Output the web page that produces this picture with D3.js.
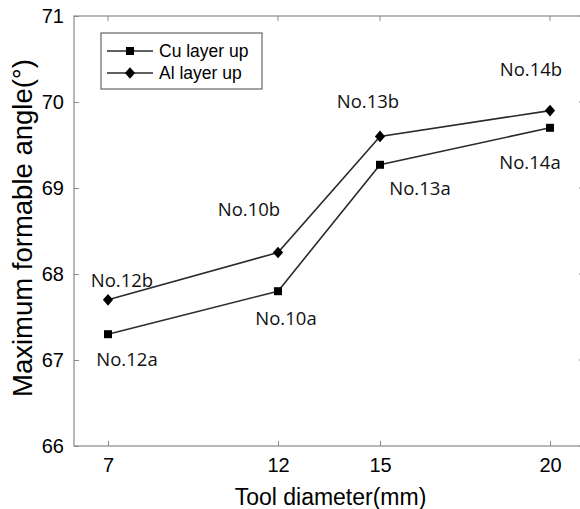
<!DOCTYPE html>
<html>
<head>
<meta charset="utf-8">
<script src="https://cdn.jsdelivr.net/npm/d3@7"></script>
<style>
  body { margin: 0; background: #fff; }
  svg { display: block; }
  .tick text { font-family: Arial, "Liberation Sans", sans-serif; font-size: 20px; fill: #000; }
  .ann { font-family: "Open Sans", "Noto Sans", sans-serif; font-size: 18.5px; fill: #111; }
</style>
</head>
<body>
<div id="chart"></div>
<script>
var diameters = [7, 12, 15, 20];
var cuUp = [67.3, 67.8, 69.27, 69.7];
var alUp = [67.7, 68.25, 69.6, 69.9];
var cuLabels = ['No.12a', 'No.10a', 'No.13a', 'No.14a'];
var alLabels = ['No.12b', 'No.10b', 'No.13b', 'No.14b'];
var yTicks = [66, 67, 68, 69, 70, 71];

var W = 580, H = 509;
var mLeft = 74, mRight = 584, mTop = 16, mBottom = 446;

var x = d3.scaleLinear().domain([6, 21]).range([mLeft, mRight]);
var y = d3.scaleLinear().domain([66, 71]).range([mBottom, mTop]);

var svg = d3.select('#chart').append('svg')
  .attr('width', W)
  .attr('height', H);

// frame
svg.append('rect')
  .attr('x', mLeft).attr('y', mTop)
  .attr('width', mRight - mLeft).attr('height', mBottom - mTop)
  .attr('fill', 'none').attr('stroke', '#8a8a8a').attr('stroke-width', 1.2);

var xAxis = svg.append('g')
  .attr('transform', 'translate(0,' + mBottom + ')')
  .call(d3.axisBottom(x).tickValues(diameters).tickSizeInner(-5).tickSizeOuter(0).tickPadding(12));
var yAxis = svg.append('g')
  .attr('transform', 'translate(' + mLeft + ',0)')
  .call(d3.axisLeft(y).tickValues(yTicks).tickFormat(d3.format('d')).tickSizeInner(-5).tickSizeOuter(0).tickPadding(10));
[xAxis, yAxis].forEach(function(a) {
  a.select('.domain').remove();
  a.selectAll('.tick line').attr('stroke', '#8a8a8a');
});

// top and right ticks
svg.selectAll('.ttick').data(diameters).enter().append('line')
  .attr('x1', function(d) { return x(d) }).attr('x2', function(d) { return x(d) })
  .attr('y1', mTop).attr('y2', mTop + 5).attr('stroke', '#8a8a8a');
svg.selectAll('.rtick').data(yTicks).enter().append('line')
  .attr('x1', mRight).attr('x2', mRight - 5)
  .attr('y1', function(d) { return y(d) }).attr('y2', function(d) { return y(d) })
  .attr('stroke', '#8a8a8a');

svg.append('text')
  .attr('x', (236 + 425) / 2).attr('y', 505)
  .attr('text-anchor', 'middle')
  .style('font-family', 'Arial, "Liberation Sans", sans-serif').style('font-size', '23px')
  .text('Tool diameter(mm)');

svg.append('text')
  .attr('transform', 'translate(32,228) rotate(-90)')
  .attr('text-anchor', 'middle')
  .style('font-family', 'Arial, "Liberation Sans", sans-serif').style('font-size', '27.5px')
  .text('Maximum formable angle(°)');

var line = d3.line()
  .x(function(d, i) { return x(diameters[i]) })
  .y(function(d) { return y(d) });

[cuUp, alUp].forEach(function(s) {
  svg.append('path').datum(s)
    .attr('d', line)
    .attr('fill', 'none').attr('stroke', '#2b2b2b').attr('stroke-width', 1.6);
});

var sq = d3.symbol().type(d3.symbolSquare).size(64);
var dm = d3.symbol().type(d3.symbolSquare).size(52);

svg.selectAll('.sq').data(cuUp).enter().append('path')
  .attr('d', sq)
  .attr('transform', function(d, i) { return 'translate(' + x(diameters[i]) + ',' + y(d) + ')' })
  .attr('fill', '#000');
svg.selectAll('.dm').data(alUp).enter().append('path')
  .attr('d', dm)
  .attr('transform', function(d, i) { return 'translate(' + x(diameters[i]) + ',' + y(d) + ') scale(1,1.15) rotate(45)' })
  .attr('fill', '#000');

// label offsets relative to each point (dx, dy)
var cuOff = [[19, 32], [8, 34], [40, 30], [-20, 41]];
var alOff = [[14, -13], [-29, -37], [-12, -28], [-19, -35]];

svg.selectAll('.cul').data(cuUp).enter().append('text')
  .attr('class', 'ann')
  .attr('text-anchor', 'middle')
  .attr('x', function(d, i) { return x(diameters[i]) + cuOff[i][0] })
  .attr('y', function(d, i) { return y(d) + cuOff[i][1] })
  .text(function(d, i) { return cuLabels[i] });
svg.selectAll('.all').data(alUp).enter().append('text')
  .attr('class', 'ann')
  .attr('text-anchor', 'middle')
  .attr('x', function(d, i) { return x(diameters[i]) + alOff[i][0] })
  .attr('y', function(d, i) { return y(d) + alOff[i][1] })
  .text(function(d, i) { return alLabels[i] });

// legend
var lg = svg.append('g');
lg.append('rect')
  .attr('x', 101).attr('y', 33).attr('width', 161).attr('height', 56)
  .attr('fill', '#fff').attr('stroke', '#666').attr('stroke-width', 1.2);
var legendItems = [{ name: 'Cu layer up', sym: sq, k: 'translate(130,51)' },
                   { name: 'Al layer up', sym: dm, k: 'translate(130,73) scale(1,1.15) rotate(45)' }];
legendItems.forEach(function(it, i) {
  var yy = 51 + i * 22;
  lg.append('line').attr('x1', 107).attr('x2', 153).attr('y1', yy).attr('y2', yy)
    .attr('stroke', '#2b2b2b').attr('stroke-width', 1.6);
  lg.append('path').attr('d', it.sym).attr('transform', it.k).attr('fill', '#000');
  lg.append('text').attr('x', 159).attr('y', yy + 6)
    .style('font-family', 'Arial, "Liberation Sans", sans-serif').style('font-size', '17.5px')
    .text(it.name);
});
</script>
</body>
</html>
